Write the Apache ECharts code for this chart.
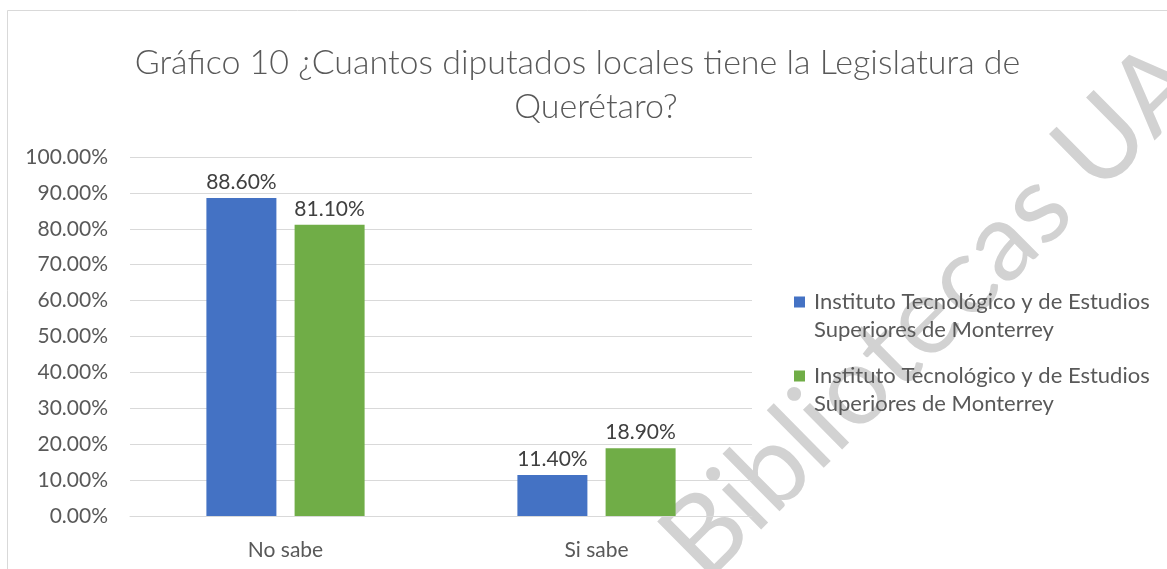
<!DOCTYPE html>
<html>
<head>
<meta charset="utf-8">
<title>Gráfico 10</title>
<script src="https://cdn.jsdelivr.net/npm/echarts@6/dist/echarts.min.js"></script>
<style>
    html, body { margin: 0; padding: 0; background: #ffffff; }
    #chart { width: 1167px; height: 569px; }
</style>
</head>
<body>
<div id="chart"></div>
<script>
// categorias y valores (porcentaje)
const categories = ['No sabe', 'Si sabe'];
const serie1 = [88.6, 11.4];
const serie2 = [81.1, 18.9];
// los dos nombres son iguales en la leyenda, el segundo lleva un espacio para distinguirlos
const nombre1 = 'Instituto Tecnológico y de Estudios Superiores de Monterrey';
const nombre2 = 'Instituto Tecnológico y de Estudios Superiores de Monterrey ';
const yTicks = { min: 0, max: 100, interval: 10 };

const FONT = 'Lato';

function initChart() {
    const chart = echarts.init(document.getElementById('chart'));

    const labelOpt = {
        show: true,
        position: 'top',
        distance: 5,
        color: '#404040',
        fontFamily: FONT,
        fontSize: 21,
        formatter: function (p) {
            return p.value.toFixed(2) + '%';
        }
    };

    const option = {
        backgroundColor: '#ffffff',
        animation: false,
        title: {
            // los espacios al final de la primera linea la corren un poco a la izquierda, como en Excel
            text: 'Gráfico 10 ¿Cuantos diputados locales tiene la Legislatura de    \nQuerétaro?',
            left: 591,
            top: 36,
            textAlign: 'center',
            textStyle: {
                color: '#595959',
                fontFamily: FONT,
                fontWeight: 300,
                fontSize: 34,
                lineHeight: 44,
                align: 'center'
            }
        },
        legend: {
            orient: 'vertical',
            left: 789,
            top: 283,
            itemWidth: 11,
            itemHeight: 39,
            itemGap: 18,
            icon: 'path://M0,0H11V11H0Z M0,39L11,39Z',
            formatter: function (name) {
                return name.trim().replace(' Superiores', '\nSuperiores');
            },
            textStyle: {
                color: '#595959',
                fontFamily: FONT,
                fontSize: 22,
                lineHeight: 28,
                padding: [0, 0, 0, 4]
            },
            data: [nombre1, nombre2]
        },
        grid: {
            left: 130,
            right: 415,
            top: 157,
            bottom: 53,
            containLabel: false
        },
        xAxis: {
            type: 'category',
            data: categories,
            axisLine: { lineStyle: { color: '#d9d9d9', width: 1 } },
            axisTick: { show: false },
            axisLabel: {
                color: '#595959',
                fontFamily: FONT,
                fontSize: 21,
                margin: 24
            }
        },
        yAxis: {
            type: 'value',
            min: yTicks.min,
            max: yTicks.max,
            interval: yTicks.interval,
            axisLine: { show: false },
            axisTick: { show: false },
            splitLine: { lineStyle: { color: '#d9d9d9', width: 1 } },
            axisLabel: {
                color: '#595959',
                fontFamily: FONT,
                fontSize: 21,
                margin: 22,
                formatter: function (v) {
                    return v.toFixed(2) + '%';
                }
            }
        },
        series: [
            {
                name: nombre1,
                type: 'bar',
                data: serie1,
                barWidth: 70,
                barGap: '26%',
                itemStyle: { color: '#4472c4' },
                label: labelOpt
            },
            {
                name: nombre2,
                type: 'bar',
                data: serie2,
                barWidth: 70,
                barGap: '26%',
                itemStyle: { color: '#70ad47' },
                label: labelOpt
            }
        ],
        graphic: [
            {
                // borde del area del grafico
                type: 'rect',
                z: -10,
                shape: { x: 7.5, y: 10.5, width: 1300, height: 700 },
                style: { fill: 'none', stroke: '#d9d9d9', lineWidth: 1 }
            },
            {
                // marca de agua
                type: 'text',
                z: -5,
                x: 962,
                y: 281,
                rotation: 0.78,
                silent: true,
                style: {
                    text: 'Bibliotecas UAQ',
                    fontFamily: FONT,
                    fontSize: 110,
                    fill: '#d2d2d2',
                    align: 'center',
                    verticalAlign: 'middle',
                    textAlign: 'center',
                    textVerticalAlign: 'middle'
                }
            }
        ]
    };

    chart.setOption(option);

    window.addEventListener('resize', function () {
        chart.resize();
    });
}

window.addEventListener('DOMContentLoaded', initChart);
</script>
</body>
</html>
